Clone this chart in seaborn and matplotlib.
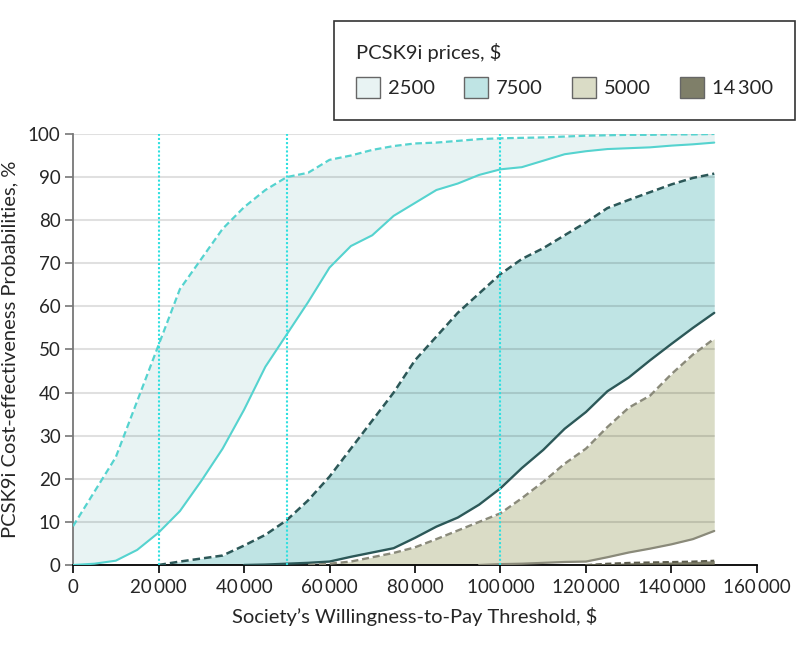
import matplotlib
matplotlib.use('Agg')

import matplotlib.pyplot as plt
import matplotlib.patches as mpatches
from matplotlib.ticker import FuncFormatter
import seaborn as sns
import numpy as np

# willingness-to-pay thresholds, $ (5000 steps)
wtp = list(range(0, 150001, 5000))

nan = np.nan

# PCSK9i price 2500 $
p2500_upper = [9, 17, 25, 38, 51, 64, 71, 78, 83, 87, 90, 91, 94, 95, 96.3, 97.2,
               97.8, 98, 98.4, 98.8, 99, 99.1, 99.2, 99.4, 99.6, 99.7, 99.8, 99.8,
               99.9, 99.9, 100]
p2500_lower = [0, 0.3, 1, 3.5, 7.5, 12.5, 19.5, 27, 36, 46, 53.5, 61, 69, 74, 76.5,
               81, 84, 87, 88.5, 90.5, 91.8, 92.3, 93.8, 95.3, 96, 96.5, 96.7, 96.9,
               97.3, 97.6, 98]

# PCSK9i price 7500 $
p7500_upper = [nan, nan, nan, nan, 0, 0.8, 1.5, 2.2, 4.5, 7, 10.4, 15, 20.5, 27,
               33.5, 40, 47.5, 53, 58.5, 63, 67.5, 71, 73.5, 76.5, 79.5, 82.8, 84.7,
               86.5, 88.3, 89.8, 90.8]
p7500_lower = [nan, nan, nan, nan, nan, nan, nan, nan, 0, 0.1, 0.3, 0.5, 0.8, 1.9,
               2.9, 3.9, 6.3, 8.9, 11, 14, 17.8, 22.5, 26.7, 31.6, 35.5, 40.3, 43.5,
               47.5, 51.3, 55, 58.5]

# PCSK9i price 5000 $
p5000_upper = [nan] * 11 + [0, 0.3, 0.8, 1.8, 2.8, 4.1, 6, 8, 10, 12, 15.5, 19.3,
                            23.5, 27, 32, 36.5, 39.3, 44.3, 48.8, 52.5]
p5000_lower = [nan] * 19 + [0, 0.2, 0.3, 0.5, 0.7, 0.8, 1.8, 2.9, 3.8, 4.8, 6, 7.9]

# PCSK9i price 14300 $
p14300_upper = [nan] * 24 + [0, 0.3, 0.5, 0.6, 0.7, 0.8, 1.0]
p14300_lower = [nan] * 24 + [0, 0, 0, 0, 0, 0, 0]

price_labels = ["2500", "7500", "5000", "14\u2009300"]
ref_lines = [20000, 50000, 100000]

bands = [
    (p2500_upper, p2500_lower, "#e8f3f3", "#55d3cf", 1.6),
    (p7500_upper, p7500_lower, "#bfe4e4", "#2c5858", 1.8),
    (p5000_upper, p5000_lower, "#dadcc6", "#8a8a7a", 1.7),
    (p14300_upper, p14300_lower, "#7f7f69", "#5c5c4c", 1.5),
]

sns.set_style("white")
plt.rcParams['font.family'] = ['Lato', 'DejaVu Sans']

fig = plt.figure(figsize=(7.98, 6.51), dpi=100)
ax = fig.add_axes([0.0915, 0.1321, 0.8571, 0.6621])

x = np.array(wtp, dtype=float)
for upper, lower, fill, line, lw in bands:
    up = np.array(upper, dtype=float)
    lo = np.array(lower, dtype=float)
    lo_f = np.where(np.isnan(lo), 0, lo)
    mask = ~np.isnan(up)
    ax.fill_between(x[mask], lo_f[mask], up[mask], color=fill, lw=0, zorder=1)

# horizontal grid, only up to the last threshold
for g in range(10, 101, 10):
    ax.plot([0, 150000], [g, g], color="black", alpha=0.12, lw=1.5, zorder=1.5)

for upper, lower, fill, line, lw in bands:
    sns.lineplot(x=wtp, y=upper, ax=ax, color=line, lw=lw,
                 linestyle=(0, (3, 1.6)), zorder=3)
    sns.lineplot(x=wtp, y=lower, ax=ax, color=line, lw=lw - 0.1, zorder=3)

for v in ref_lines:
    ax.plot([v, v], [0, 100], color="#2ee0e0", lw=1.5, ls=(0, (1, 1)), zorder=4)

ax.set_xlim(0, 160000)
ax.set_ylim(0, 100)
ax.set_xticks(range(0, 160001, 20000))
ax.set_yticks(range(0, 101, 10))
ax.xaxis.set_major_formatter(
    FuncFormatter(lambda v, p: f"{v:,.0f}".replace(",", "\u2009")))

for s in ["top", "right"]:
    ax.spines[s].set_visible(False)
ax.spines["bottom"].set_color("black")
ax.spines["bottom"].set_linewidth(1.3)
ax.spines["left"].set_color("#777777")
ax.spines["left"].set_linewidth(1.3)
ax.tick_params(axis="x", direction="out", length=6, width=1.2, color="black",
               labelsize=13.5, pad=4)
ax.tick_params(axis="y", direction="out", length=6, width=1.2, color="#777777",
               labelsize=13.5, pad=3)
ax.xaxis.set_ticks_position("bottom")
ax.yaxis.set_ticks_position("left")

ax.set_xlabel("Society\u2019s Willingness-to-Pay Threshold, $", fontsize=14.5,
              labelpad=8)
ax.set_ylabel("PCSK9i Cost-effectiveness Probabilities, %", fontsize=14.5,
              labelpad=7)

handles = [mpatches.Patch(facecolor=b[2], edgecolor="#666666", lw=1)
           for b in bands]
leg = fig.legend(handles, price_labels, title="PCSK9i prices, $", ncol=4,
                 loc="upper left",
                 bbox_to_anchor=(334 / 798, 1 - 117 / 651, 461 / 798, 96 / 651),
                 mode="expand", fontsize=14.5, title_fontsize=14.5, frameon=True,
                 fancybox=False, edgecolor="black", handlelength=1.2,
                 handleheight=1.2, handletextpad=0.4, borderpad=1.1,
                 borderaxespad=0, columnspacing=1.5, labelspacing=0.75)
leg._legend_box.align = "left"
leg.get_frame().set_linewidth(1.2)

plt.savefig("out.png", dpi=100)
plt.close()
